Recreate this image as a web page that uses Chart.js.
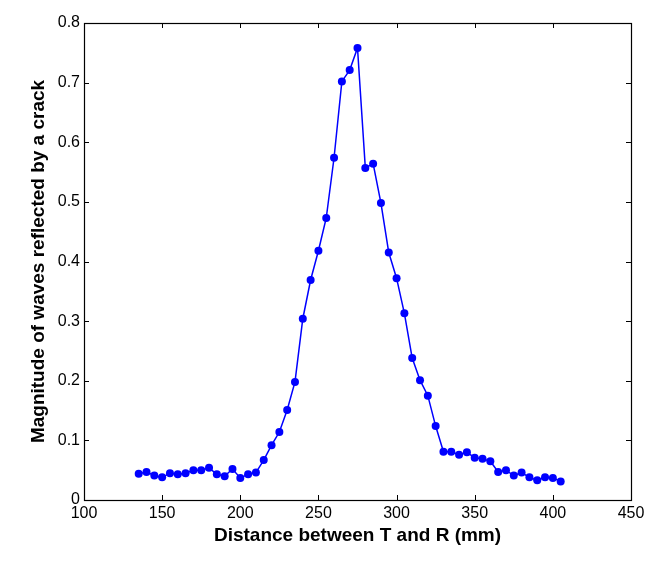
<!DOCTYPE html>
<html>
<head>
<meta charset="utf-8">
<script src="https://cdn.jsdelivr.net/npm/chart.js@4.4.1/dist/chart.umd.min.js"></script>
<style>
  html, body { margin: 0; padding: 0; background: #ffffff; }
  #wrap { width: 666px; height: 564px; }
</style>
</head>
<body>
<div id="wrap"><canvas id="c" width="666" height="564"></canvas></div>
<script>
const distances = [135,140,145,150,155,160,165,170,175,180,185,190,195,200,205,210,215,220,225,230,235,240,245,250,255,260,265,270,275,280,285,290,295,300,305,310,315,320,325,330,335,340,345,350,355,360,365,370,375,380,385,390,395,400,405];
const magnitudes = [0.044,0.047,0.041,0.038,0.045,0.043,0.045,0.050,0.050,0.054,0.043,0.040,0.052,0.037,0.043,0.046,0.067,0.092,0.114,0.151,0.198,0.304,0.369,0.418,0.473,0.574,0.702,0.721,0.758,0.557,0.564,0.498,0.415,0.372,0.313,0.238,0.201,0.175,0.124,0.081,0.081,0.076,0.080,0.071,0.069,0.065,0.047,0.050,0.041,0.046,0.038,0.033,0.038,0.037,0.031];
const xTicks = [100,150,200,250,300,350,400,450];
const yTicks = [0,0.1,0.2,0.3,0.4,0.5,0.6,0.7,0.8];
const xTitle = 'Distance between T and R (mm)';
const yTitle = 'Magnitude of waves reflected by a crack';

const points = distances.map((d, i) => ({x: d, y: magnitudes[i]}));

const frameTicks = {
  id: 'frameTicks',
  afterDraw(chart) {
    const {ctx, chartArea: a, scales} = chart;
    const L = 5;
    ctx.save();
    ctx.strokeStyle = '#000';
    ctx.lineWidth = 1;
    ctx.beginPath();
    xTicks.forEach(v => {
      const px = Math.round(scales.x.getPixelForValue(v)) + 0.5;
      ctx.moveTo(px, a.bottom); ctx.lineTo(px, a.bottom - L);
      ctx.moveTo(px, a.top); ctx.lineTo(px, a.top + L);
    });
    yTicks.forEach(v => {
      const py = Math.round(scales.y.getPixelForValue(v)) + 0.5;
      ctx.moveTo(a.left, py); ctx.lineTo(a.left + L, py);
      ctx.moveTo(a.right, py); ctx.lineTo(a.right - L, py);
    });
    ctx.stroke();
    ctx.lineWidth = 1.2;
    ctx.strokeRect(Math.round(a.left) + 0.5, Math.round(a.top) + 0.5, Math.round(a.right - a.left), Math.round(a.bottom - a.top));
    ctx.restore();
  }
};

new Chart(document.getElementById('c'), {
  type: 'scatter',
  data: {
    datasets: [{
      data: points,
      showLine: true,
      borderColor: '#0000ff',
      backgroundColor: '#0000ff',
      borderWidth: 1.5,
      pointRadius: 4,
      pointBorderWidth: 0,
      pointBackgroundColor: '#0000ff',
      tension: 0
    }]
  },
  options: {
    responsive: false,
    animation: false,
    devicePixelRatio: 1,
    layout: { padding: { left: 0, right: 35, top: 23, bottom: 0 } },
    plugins: { legend: { display: false }, tooltip: { enabled: false } },
    scales: {
      x: {
        type: 'linear',
        min: 100, max: 450,
        afterFit(s) { s.height = 64; },
        afterBuildTicks(s) { s.ticks = xTicks.map(v => ({value: v})); },
        grid: { display: false, drawTicks: false },
        border: { display: false },
        ticks: { color: '#000', padding: 4, font: { family: 'Liberation Sans, Arial, sans-serif', size: 16 }, maxRotation: 0, autoSkip: false },
        title: { display: true, text: xTitle, color: '#000', font: { family: 'Liberation Sans, Arial, sans-serif', size: 19, weight: 'bold' }, padding: { top: 0, bottom: 17 } }
      },
      y: {
        type: 'linear',
        min: 0, max: 0.8,
        afterFit(s) { s.width = 84; },
        afterBuildTicks(s) { s.ticks = yTicks.map(v => ({value: v})); },
        grid: { display: false, drawTicks: false },
        border: { display: false },
        ticks: { color: '#000', padding: 4, font: { family: 'Liberation Sans, Arial, sans-serif', size: 16 }, autoSkip: false,
          callback: v => String(Number(v.toFixed(1))) },
        title: { display: true, text: yTitle, color: '#000', font: { family: 'Liberation Sans, Arial, sans-serif', size: 19, weight: 'bold' }, padding: { top: 27, bottom: 0 } }
      }
    }
  },
  plugins: [frameTicks]
});
</script>
</body>
</html>
